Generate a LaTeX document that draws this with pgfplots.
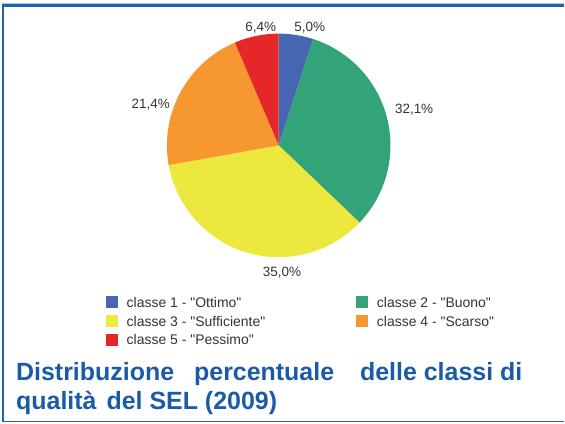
\documentclass[border=0pt]{standalone}
\usepackage{pgfplots}
\pgfplotsset{compat=1.18}
\usepackage{pgfplotstable}
\usepackage{fontspec}
\setmainfont{Liberation Sans}

\definecolor{c1}{HTML}{4567B1}
\definecolor{c2}{HTML}{33A478}
\definecolor{c3}{HTML}{EDE83D}
\definecolor{c4}{HTML}{F7972F}
\definecolor{c5}{HTML}{E52728}
\definecolor{titleblue}{HTML}{1A5BA8}
\definecolor{framedark}{HTML}{1E64B4}
\definecolor{framelight}{HTML}{A8C8EA}
\definecolor{textgray}{HTML}{333333}

\pgfplotstableread{
cls value
1 5.0
2 32.1
3 35.0
4 21.4
5 6.4
}\piedata

\pgfplotstablegetelem{0}{value}\of\piedata \let\vA\pgfplotsretval
\pgfplotstablegetelem{1}{value}\of\piedata \let\vB\pgfplotsretval
\pgfplotstablegetelem{2}{value}\of\piedata \let\vC\pgfplotsretval
\pgfplotstablegetelem{3}{value}\of\piedata \let\vD\pgfplotsretval
\pgfplotstablegetelem{4}{value}\of\piedata \let\vE\pgfplotsretval
\pgfmathsetmacro\vTot{\vA+\vB+\vC+\vD+\vE}
\pgfmathsetmacro\aA{90}
\pgfmathsetmacro\aB{\aA-360*\vA/\vTot}
\pgfmathsetmacro\aC{\aB-360*\vB/\vTot}
\pgfmathsetmacro\aD{\aC-360*\vC/\vTot}
\pgfmathsetmacro\aE{\aD-360*\vD/\vTot}
\pgfmathsetmacro\aF{\aE-360*\vE/\vTot}
\def\pcx{279.3}
\def\pcy{278.3}
\def\prad{112}
\def\q{\textquotedbl}

\begin{document}
\begin{tikzpicture}
\begin{axis}[
  hide axis, scale only axis, width=565pt, height=424pt,
  xmin=0, xmax=565, ymin=0, ymax=424, clip=false,
  legend columns=2, legend cell align=left,
  legend image code/.code={\fill[#1] (0pt,-5pt) rectangle (12pt,7pt);},
  legend style={draw=none, fill=none, inner sep=0pt, outer sep=0pt,
    at={(axis description cs:0.18761,0.30024)}, anchor=north west,
    font=\fontsize{14}{16}\selectfont, text=textgray,
    nodes={inner sep=0pt, text height=11pt, text depth=3pt},
    row sep=5pt,
    /tikz/every odd column/.append style={column sep=9pt},
    /tikz/every even column/.append style={column sep=90.9pt}},
]
\addplot[fill=c1, draw=none, domain=\aB:\aA, samples=30] ({\pcx+\prad*cos(x)},{\pcy+\prad*sin(x)}) -- (axis cs:\pcx,\pcy) -- cycle;
\addlegendentry{classe 1 - \q Ottimo\q}
\addplot[fill=c2, draw=none, domain=\aC:\aB, samples=80] ({\pcx+\prad*cos(x)},{\pcy+\prad*sin(x)}) -- (axis cs:\pcx,\pcy) -- cycle;
\addlegendentry{classe 2 - \q Buono\q}
\addplot[fill=c3, draw=none, domain=\aD:\aC, samples=80] ({\pcx+\prad*cos(x)},{\pcy+\prad*sin(x)}) -- (axis cs:\pcx,\pcy) -- cycle;
\addlegendentry{classe 3 - \q Sufficiente\q}
\addplot[fill=c4, draw=none, domain=\aE:\aD, samples=60] ({\pcx+\prad*cos(x)},{\pcy+\prad*sin(x)}) -- (axis cs:\pcx,\pcy) -- cycle;
\addlegendentry{classe 4 - \q Scarso\q}
\addplot[fill=c5, draw=none, domain=\aF:\aE, samples=30] ({\pcx+\prad*cos(x)},{\pcy+\prad*sin(x)}) -- (axis cs:\pcx,\pcy) -- cycle;
\addlegendentry{classe 5 - \q Pessimo\q}

\begin{scope}[every node/.style={font=\fontsize{13.5}{15}\selectfont, text=textgray, anchor=base, inner sep=0pt}]
\node at (axis cs:261.2,392.5) {6,4\%};
\node at (axis cs:310.5,392.5) {5,0\%};
\node at (axis cs:415,310) {32,1\%};
\node at (axis cs:151,315) {21,4\%};
\node at (axis cs:282.5,146.5) {35,0\%};
\end{scope}

\node[anchor=base west, inner sep=0pt, text=titleblue, font=\fontsize{25}{28}\selectfont\bfseries] at (axis cs:16,43) {Distribuzione\hspace{20pt}percentuale\hspace{26pt}delle classi di};
\node[anchor=base west, inner sep=0pt, text=titleblue, font=\fontsize{25}{28}\selectfont\bfseries] at (axis cs:16,13.5) {qualità\hspace{10pt}del SEL (2009)};

\path (axis cs:0,0) rectangle (axis cs:565,424);
\draw[framelight, line width=1.3pt] (axis cs:2,420.4) -- (axis cs:565,420.4);
\draw[framedark, line width=2.4pt] (axis cs:2,418.5) -- (axis cs:565,418.5);
\draw[framedark, line width=1.7pt] (axis cs:2.8,419.7) -- (axis cs:2.8,0.7);
\draw[framedark, line width=1.6pt] (axis cs:2,1.5) -- (axis cs:565,1.5);
\end{axis}
\end{tikzpicture}
\end{document}
